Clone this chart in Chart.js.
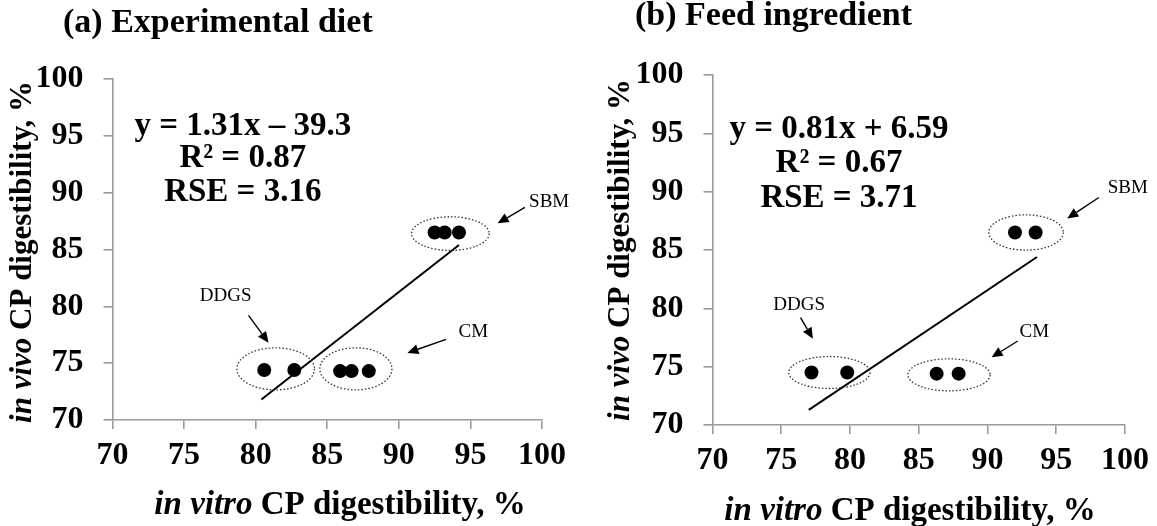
<!DOCTYPE html>
<html>
<head>
<meta charset="utf-8">
<script src="https://cdn.jsdelivr.net/npm/chart.js@4.4.0/dist/chart.umd.min.js"></script>
<style>
  html, body { margin: 0; padding: 0; background: #fff; }
  #wrap { position: relative; width: 1157px; height: 526px; }
  .box { position: absolute; top: 0; height: 526px; }
</style>
</head>
<body>
<div id="wrap">
  <div class="box" style="left:0;width:580px"><canvas id="dietChart" width="580" height="526"></canvas></div>
  <div class="box" style="left:580px;width:577px"><canvas id="feedChart" width="577" height="526"></canvas></div>
</div>
<script>
// shared axis ticks (both panels 70..100 by 5)
const axisTicks = [70, 75, 80, 85, 90, 95, 100];
const groupNames = ['DDGS', 'CM', 'SBM'];

// (a) experimental diet
const dietDdgsX = [80.6, 82.7];
const dietDdgsY = [74.4, 74.4];
const dietCmX = [85.9, 86.7, 87.9];
const dietCmY = [74.3, 74.3, 74.3];
const dietSbmX = [92.5, 93.2, 94.2];
const dietSbmY = [86.5, 86.5, 86.5];
const dietFitX = [80.4, 94.2];
const dietFitY = [71.8, 85.4];
const dietEq = ['y = 1.31x \u2013 39.3', 'R\u00B2 = 0.87', 'RSE = 3.16'];

// (b) feed ingredient
const feedDdgsX = [77.2, 79.8];
const feedDdgsY = [74.5, 74.5];
const feedCmX = [86.3, 87.9];
const feedCmY = [74.4, 74.4];
const feedSbmX = [92.0, 93.5];
const feedSbmY = [86.5, 86.5];
const feedFitX = [77.0, 93.6];
const feedFitY = [71.3, 84.4];
const feedEq = ['y = 0.81x + 6.59', 'R\u00B2 = 0.67', 'RSE = 3.71'];

const SERIF = '"Liberation Serif", "Times New Roman", serif';
const AXIS_GRAY = '#9a9a9a';

const pts = (xs, ys) => xs.map((v, i) => ({ x: v, y: ys[i] }));

// ellipses, arrows, labels, equation and titles
const notesPlugin = {
  id: 'notes',
  afterDraw(chart, args, o) {
    const { ctx, scales: { x, y } } = chart;
    const px = v => x.getPixelForValue(v);
    const py = v => y.getPixelForValue(v);
    ctx.save();

    // dotted ellipses round the groups
    ctx.strokeStyle = '#333';
    ctx.lineWidth = 1.3;
    ctx.setLineDash([1.5, 2]);
    for (const e of o.ellipses) {
      const rx = Math.abs(px(e[0] + e[2]) - px(e[0]));
      const ry = Math.abs(py(e[1] + e[3]) - py(e[1]));
      ctx.beginPath();
      ctx.ellipse(px(e[0]), py(e[1]), rx, ry, 0, 0, Math.PI * 2);
      ctx.stroke();
    }
    ctx.setLineDash([]);

    // arrows
    ctx.strokeStyle = '#000';
    ctx.fillStyle = '#000';
    ctx.lineWidth = 1.4;
    for (const a of o.arrows) {
      const x1 = px(a[0]), y1 = py(a[1]), x2 = px(a[2]), y2 = py(a[3]);
      const ang = Math.atan2(y2 - y1, x2 - x1);
      const hl = 11, hw = 5;
      const bx = x2 - hl * Math.cos(ang), by = y2 - hl * Math.sin(ang);
      ctx.beginPath();
      ctx.moveTo(x1, y1);
      ctx.lineTo(bx, by);
      ctx.stroke();
      ctx.beginPath();
      ctx.moveTo(x2, y2);
      ctx.lineTo(bx + hw * Math.sin(ang), by - hw * Math.cos(ang));
      ctx.lineTo(bx - hw * Math.sin(ang), by + hw * Math.cos(ang));
      ctx.closePath();
      ctx.fill();
    }

    // group labels
    ctx.font = '19px ' + SERIF;
    ctx.textAlign = 'center';
    ctx.textBaseline = 'middle';
    o.labels.forEach((l, i) => ctx.fillText(groupNames[i], px(l[0]), py(l[1])));

    // regression text
    ctx.font = 'bold 33px ' + SERIF;
    ctx.textBaseline = 'alphabetic';
    o.eqText.forEach((t, i) => ctx.fillText(t, px(o.eqX), py(o.eqY[i])));

    // panel title
    ctx.font = 'bold 34px ' + SERIF;
    ctx.textAlign = 'left';
    ctx.fillText(o.title.text, o.title.x, o.title.y);

    // x axis title: italic part + plain part
    const drawMixed = (italic, rest, size) => {
      ctx.font = 'italic bold ' + size + 'px ' + SERIF;
      const w1 = ctx.measureText(italic).width;
      ctx.font = 'bold ' + size + 'px ' + SERIF;
      const w2 = ctx.measureText(rest).width;
      let sx = -(w1 + w2) / 2;
      ctx.font = 'italic bold ' + size + 'px ' + SERIF;
      ctx.fillText(italic, sx, 0);
      ctx.font = 'bold ' + size + 'px ' + SERIF;
      ctx.fillText(rest, sx + w1, 0);
    };
    ctx.textAlign = 'left';
    ctx.save();
    ctx.translate(o.xTitle.x, o.xTitle.y);
    drawMixed('in vitro', ' CP digestibility, %', 33);
    ctx.restore();

    ctx.save();
    ctx.translate(o.yTitle.x, o.yTitle.y);
    ctx.rotate(-Math.PI / 2);
    drawMixed('in vivo', ' CP digestibility, %', 31);
    ctx.restore();

    ctx.restore();
  }
};

function axis(pos, fitSize) {
  return {
    type: 'linear',
    position: pos,
    min: axisTicks[0],
    max: axisTicks[axisTicks.length - 1],
    ticks: {
      stepSize: axisTicks[1] - axisTicks[0],
      color: '#000',
      padding: pos === 'left' ? 20 : 8,
      font: { family: SERIF, size: 32, weight: 'bold' }
    },
    grid: { drawOnChartArea: false, drawTicks: true, tickLength: 9, color: AXIS_GRAY, lineWidth: 1.6 },
    border: { display: true, color: AXIS_GRAY, width: 1.6 },
    afterFit(s) {
      if (pos === 'left') s.width = fitSize; else s.height = fitSize;
    }
  };
}

function makeChart(id, groups, fitX, fitY, notes) {
  const datasets = groups.map(g => ({
    data: pts(g[0], g[1]),
    backgroundColor: '#000',
    borderWidth: 0,
    pointRadius: 7,
    pointHoverRadius: 7
  }));
  datasets.push({
    data: pts(fitX, fitY),
    showLine: true,
    borderColor: '#000',
    borderWidth: 2,
    pointRadius: 0,
    fill: false
  });
  return new Chart(document.getElementById(id), {
    type: 'scatter',
    data: { datasets },
    options: {
      responsive: false,
      animation: false,
      events: [],
      layout: { padding: { top: notes.top, right: notes.right, left: 0, bottom: 0 } },
      scales: { x: axis('bottom', notes.xh), y: axis('left', notes.yw) },
      plugins: { legend: { display: false }, tooltip: { enabled: false }, notes }
    },
    plugins: [notesPlugin]
  });
}

makeChart('dietChart',
  [[dietDdgsX, dietDdgsY], [dietCmX, dietCmY], [dietSbmX, dietSbmY]],
  dietFitX, dietFitY, {
    top: 79, right: 38, yw: 112.5, xh: 106,
    title: { text: '(a) Experimental diet', x: 63, y: 32 },
    xTitle: { x: 340, y: 514 },
    yTitle: { x: 31, y: 252 },
    eqText: dietEq, eqX: 79.1, eqY: [95.1, 92.3, 89.3],
    ellipses: [[81.4, 74.5, 2.71, 1.85], [87.0, 74.5, 2.52, 1.85], [93.6, 86.4, 2.71, 1.48]],
    labels: [[77.9, 80.9], [95.2, 77.7], [100.5, 89.2]],
    arrows: [[79.5, 79.2, 80.9, 76.8], [93.3, 77.1, 90.6, 75.9], [98.8, 88.7, 96.9, 87.3]]
  });

makeChart('feedChart',
  [[feedDdgsX, feedDdgsY], [feedCmX, feedCmY], [feedSbmX, feedSbmY]],
  feedFitX, feedFitY, {
    top: 75, right: 28, yw: 132.5, xh: 101,
    title: { text: '(b) Feed ingredient', x: 55, y: 25 },
    xTitle: { x: 330, y: 520 },
    yTitle: { x: 49, y: 250 },
    eqText: feedEq, eqX: 79.2, eqY: [94.6, 91.7, 88.7],
    ellipses: [[78.5, 74.5, 2.95, 1.37], [87.2, 74.3, 2.99, 1.37], [92.8, 86.5, 2.71, 1.51]],
    labels: [[76.3, 80.3], [93.4, 78.0], [100.2, 90.3]],
    arrows: [[76.4, 79.2, 77.3, 77.4], [92.2, 77.2, 90.3, 75.8], [98.1, 89.5, 95.8, 87.7]]
  });
</script>
</body>
</html>
